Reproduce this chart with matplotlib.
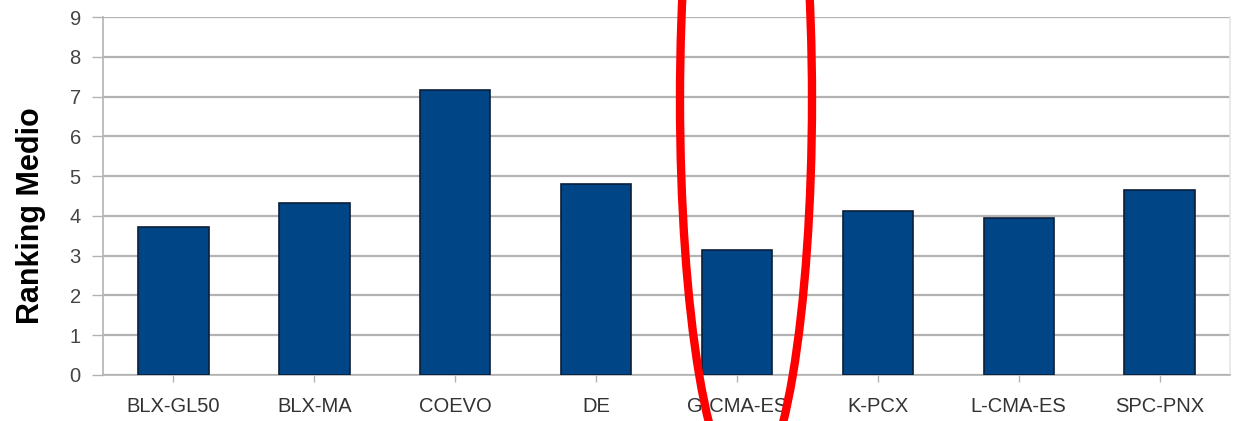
import matplotlib.pyplot as plt
from matplotlib.patches import Ellipse

algorithms = ['BLX-GL50', 'BLX-MA', 'COEVO', 'DE', 'G-CMA-ES', 'K-PCX', 'L-CMA-ES', 'SPC-PNX']
ranking = [3.72, 4.33, 7.17, 4.81, 3.15, 4.13, 3.95, 4.66]
y_ticks = list(range(10))

plt.rcParams['font.family'] = ['Liberation Sans', 'DejaVu Sans']

fig = plt.figure(figsize=(12.35, 4.21), dpi=100)
ax = fig.add_axes([0.0834, 0.1093, 0.9126, 0.8503])

x = range(len(algorithms))
ax.bar(x, ranking, width=0.5, color='#004586', edgecolor='#0a1f3a',
       linewidth=1.2, zorder=3)

ax.set_xlim(-0.5, len(algorithms) - 0.5)
ax.set_ylim(0, 9)
ax.set_yticks(y_ticks)
ax.set_xticks(list(x))
ax.set_xticklabels(algorithms)

ax.grid(axis='y', color='#b3b3b3', linewidth=1.6, zorder=0)
ax.tick_params(axis='y', length=8, width=1, color='#b3b3b3',
               labelsize=14.5, labelcolor='#444444', pad=8)
ax.tick_params(axis='x', length=5, width=1, color='#b3b3b3',
               labelsize=14.5, labelcolor='#333333', pad=11)

ax.spines['top'].set_visible(False)
ax.spines['left'].set_color('#b3b3b3')
ax.spines['bottom'].set_color('#b3b3b3')
ax.spines['right'].set_color('#e6e6e6')
for s in ax.spines.values():
    s.set_linewidth(1.2)

ax.set_ylabel('Ranking Medio', fontsize=22, fontweight='bold')
ax.yaxis.set_label_coords(-0.051, 0.445)

# red ellipse highlight drawn in figure pixel space
ell = Ellipse((746, 421 - 100), width=132, height=780, angle=0,
              transform=None, fill=False, edgecolor='#ff0000',
              linewidth=6, zorder=10)
fig.patches.append(ell)

fig.savefig('out.png', dpi=100)
